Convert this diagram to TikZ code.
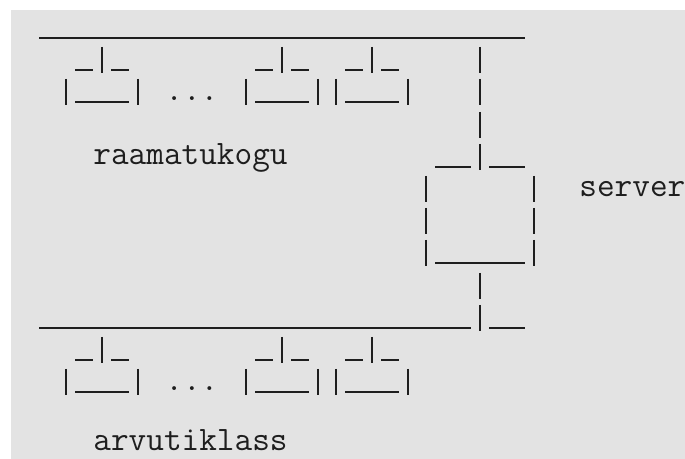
\documentclass[tikz,border=0pt]{standalone}
\definecolor{bggrey}{HTML}{E3E3E3}
\definecolor{ink}{HTML}{1E1E1E}
% underscores in row #1 from column #2 to column #3
\newcommand{\usc}[3]{\draw[stroke] ({39+18*(#2)},{round(38+32.2*(#1))}) -- ({57+18*(#3)},{round(38+32.2*(#1))});}
% vertical bar in row #1, column #2
\newcommand{\vbr}[2]{\draw[stroke] ({48+18*(#2)},{round(38+32.2*(#1))-23}) -- ({48+18*(#2)},{round(38+32.2*(#1))+3});}
% a small computer "_|_ / |___|" with left edge at column #2, top row #1
\newcommand{\pcbox}[2]{%
  \usc{#1}{#2+1}{#2+1}\vbr{#1}{#2+2}\usc{#1}{#2+3}{#2+3}%
  \vbr{#1+1}{#2}\usc{#1+1}{#2+1}{#2+3}\vbr{#1+1}{#2+4}}
\begin{document}
\begin{tikzpicture}[x=0.5pt,y=-0.5pt,
  stroke/.style={draw=ink,line width=1pt},
  lbl/.style={text=ink,inner sep=0pt,anchor=base west,
    font=\fontsize{17.14}{20}\selectfont\ttfamily}]
\fill[white] (0,0) rectangle (685,459);
\fill[bggrey] (11,10) rectangle (685,459);
\useasboundingbox (0,0) rectangle (685,459);
% library bus
\usc{0}{0}{26}
\pcbox{1}{1}\pcbox{1}{11}\pcbox{1}{16}
\node[lbl] (dots1) at ({39+18*7},{38+32.2*2-2}) {...};
\node[lbl] (lib) at ({39+18*3},{38+32.2*4-2}) {raamatukogu};
% riser to server
\vbr{1}{24}\vbr{2}{24}\vbr{3}{24}
% server
\usc{4}{22}{23}\vbr{4}{24}\usc{4}{25}{26}
\vbr{5}{21}\vbr{5}{27}
\vbr{6}{21}\vbr{6}{27}
\vbr{7}{21}\usc{7}{22}{26}\vbr{7}{27}
\node[lbl] (srv) at ({39+18*30},{38+32.2*5-2}) {server};
\vbr{8}{24}
% classroom bus
\usc{9}{0}{23}\vbr{9}{24}\usc{9}{25}{26}
\pcbox{10}{1}\pcbox{10}{11}\pcbox{10}{16}
\node[lbl] (dots2) at ({39+18*7},{38+32.2*11-2}) {...};
\node[lbl] (cls) at ({39+18*3},451) {arvutiklass};
\end{tikzpicture}
\end{document}
